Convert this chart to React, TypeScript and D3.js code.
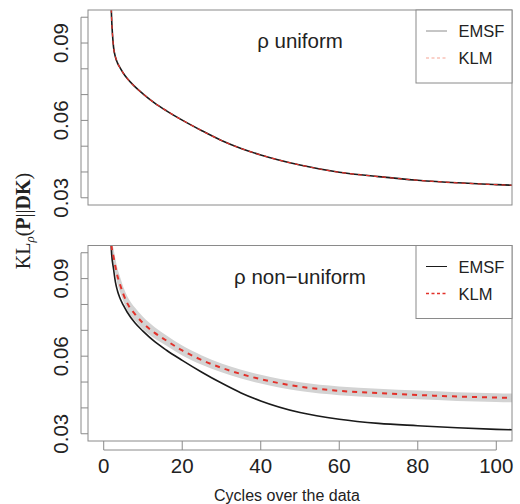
import React from "react";
import { scaleLinear, line, area, curveMonotoneX, range } from "d3";

// cycles over the data (x values shared by all curves)
const cycles = [1.5, 2, 2.5, 3, 3.5, 4, 5, 6, 8, 10, 13, 16, 20, 25, 30, 35, 40, 50, 60, 70, 80, 90, 100, 105];

// rho uniform panel
const uniformEMSF = [0.125, 0.1, 0.0885, 0.0845, 0.0823, 0.0808, 0.0783, 0.0762, 0.073, 0.0703, 0.0667, 0.0637, 0.0601, 0.056, 0.0522, 0.0491, 0.0466, 0.0427, 0.0399, 0.0382, 0.0368, 0.0358, 0.0351, 0.0348];
const uniformKLM = [0.125, 0.1, 0.0886, 0.0846, 0.0823, 0.0808, 0.0783, 0.0762, 0.073, 0.0703, 0.0667, 0.0637, 0.0601, 0.056, 0.0522, 0.0491, 0.0466, 0.0427, 0.0399, 0.0382, 0.0368, 0.0358, 0.0351, 0.0348];

// rho non-uniform panel
const nonUniformEMSF = [0.125, 0.1, 0.0938, 0.0885, 0.0853, 0.083, 0.0797, 0.077, 0.0728, 0.0697, 0.0656, 0.0623, 0.0584, 0.0538, 0.0496, 0.0458, 0.0427, 0.0382, 0.0356, 0.034, 0.0331, 0.0323, 0.0317, 0.0315];
const nonUniformKLM = [0.13, 0.1025, 0.0985, 0.0945, 0.091, 0.0885, 0.084, 0.0805, 0.0762, 0.0728, 0.069, 0.066, 0.0622, 0.0585, 0.0555, 0.0531, 0.0511, 0.0482, 0.0466, 0.0457, 0.045, 0.0444, 0.044, 0.0438];
const nonUniformKLMSpread = [0.003, 0.003, 0.003, 0.003, 0.003, 0.003, 0.0028, 0.0027, 0.0025, 0.0024, 0.0022, 0.002, 0.0019, 0.0018, 0.0017, 0.0017, 0.0017, 0.0017, 0.0017, 0.0017, 0.0017, 0.0017, 0.0017, 0.0017];

const xTicks = [0, 20, 40, 60, 80, 100];
const yTickLabels = [0.03, 0.06, 0.09];
const yMinorTicks = range(3, 11).map(d => d / 100);

const red = "#e2312a";
const frame = "#8a8a8a";
const sans = "'Liberation Sans', Arial, Helvetica, sans-serif";

const left = 88;
const right = 512;
const axisX = 81;

const x = scaleLinear().domain([-4, 104]).range([left, right]);

function Panel({ top, bottom, emsf, klm, spread, label, faded, id }) {
  const y = scaleLinear().domain([0.0272, 0.1028]).range([bottom, top]);
  const pts = (vals) => cycles.map((c, i) => ({ x: c, y: vals[i] }));
  const gen = line().x(d => x(d.x)).y(d => y(d.y)).curve(curveMonotoneX);
  const band = spread
    ? area()
        .x(d => x(d.x))
        .y0(d => y(d.y - d.s))
        .y1(d => y(d.y + d.s))
        .curve(curveMonotoneX)(cycles.map((c, i) => ({ x: c, y: klm[i], s: spread[i] })))
    : null;

  const lgLeft = 416;
  const lgTop = top;
  const lgBottom = top + 73;
  const emsfY = top + 21;
  const klmY = top + 48;

  return (
    <g>
      <defs>
        <clipPath id={id}>
          <rect x={left} y={top} width={right - left} height={bottom - top} />
        </clipPath>
      </defs>
      <g clipPath={`url(#${id})`}>
        {band && <path d={band} fill="#d3d3d3" />}
        <path d={gen(pts(emsf))} fill="none" stroke="#1a1a1a" strokeWidth={1.6} />
        <path
          d={gen(pts(klm))}
          fill="none"
          stroke={red}
          strokeWidth={spread ? 2 : 1.2}
          strokeDasharray={spread ? "5,5" : "4,4"}
        />
      </g>
      <rect x={left} y={top} width={right - left} height={bottom - top} fill="none" stroke={frame} strokeWidth={1} />
      {/* y axis */}
      <line x1={axisX} x2={axisX} y1={y(0.1)} y2={y(0.03)} stroke={frame} />
      {yMinorTicks.map(t => (
        <line key={t} x1={axisX} x2={left} y1={y(t)} y2={y(t)} stroke={frame} />
      ))}
      {yTickLabels.map(t => (
        <text
          key={t}
          transform={`translate(68,${y(t)}) rotate(-90)`}
          textAnchor="middle"
          fontFamily={sans}
          fontSize={20.5}
          fill="#222"
        >
          {t.toFixed(2)}
        </text>
      ))}
      <text x={300} y={top + 38} textAnchor="middle" fontFamily={sans} fontSize={20.5} fill="#222">
        {label}
      </text>
      {/* legend */}
      <rect x={lgLeft} y={lgTop} width={right - lgLeft} height={lgBottom - lgTop} fill="white" stroke={frame} />
      <line x1={426} x2={447} y1={emsfY} y2={emsfY} stroke={faded ? "#8c8c8c" : "#1a1a1a"} strokeWidth={1} />
      <line
        x1={426}
        x2={447}
        y1={klmY}
        y2={klmY}
        stroke={faded ? "#f5a393" : red}
        strokeWidth={faded ? 1 : 1.3}
        strokeDasharray="3,2.5"
      />
      <text x={458.5} y={emsfY + 6} fontFamily={sans} fontSize={16.5} fill="#222">EMSF</text>
      <text x={458.5} y={klmY + 6} fontFamily={sans} fontSize={16.5} fill="#222">KLM</text>
    </g>
  );
}

export default function App() {
  const bottomPanel = 441;
  return (
    <svg width={520} height={504} style={{ position: "absolute", left: 0, top: 0, background: "white" }}>
      <Panel top={10} bottom={205} emsf={uniformEMSF} klm={uniformKLM} spread={null} label="ρ uniform" faded id="clipTop" />
      <Panel
        top={245.5}
        bottom={bottomPanel}
        emsf={nonUniformEMSF}
        klm={nonUniformKLM}
        spread={nonUniformKLMSpread}
        label="ρ non−uniform"
        faded={false}
        id="clipBottom"
      />
      {/* x axis */}
      <line x1={x(0)} x2={x(100)} y1={450} y2={450} stroke={frame} />
      {xTicks.map(t => (
        <g key={t}>
          <line x1={x(t)} x2={x(t)} y1={bottomPanel} y2={450} stroke={frame} />
          <text x={x(t)} y={473} textAnchor="middle" fontFamily={sans} fontSize={20.5} fill="#222">
            {t}
          </text>
        </g>
      ))}
      <text x={287} y={501} textAnchor="middle" fontFamily={sans} fontSize={16} fill="#222">
        Cycles over the data
      </text>
      <text
        transform="translate(30,221) rotate(-90)"
        textAnchor="middle"
        fontFamily="'Liberation Serif', 'DejaVu Serif', serif"
        fontSize={20}
        fill="#222"
      >
        KL
        <tspan fontSize={13} fontStyle="italic" dy={4}>ρ</tspan>
        <tspan dy={-4}>(</tspan>
        <tspan fontWeight="bold">P</tspan>
        ||
        <tspan fontWeight="bold">DK</tspan>)
      </text>
    </svg>
  );
}
